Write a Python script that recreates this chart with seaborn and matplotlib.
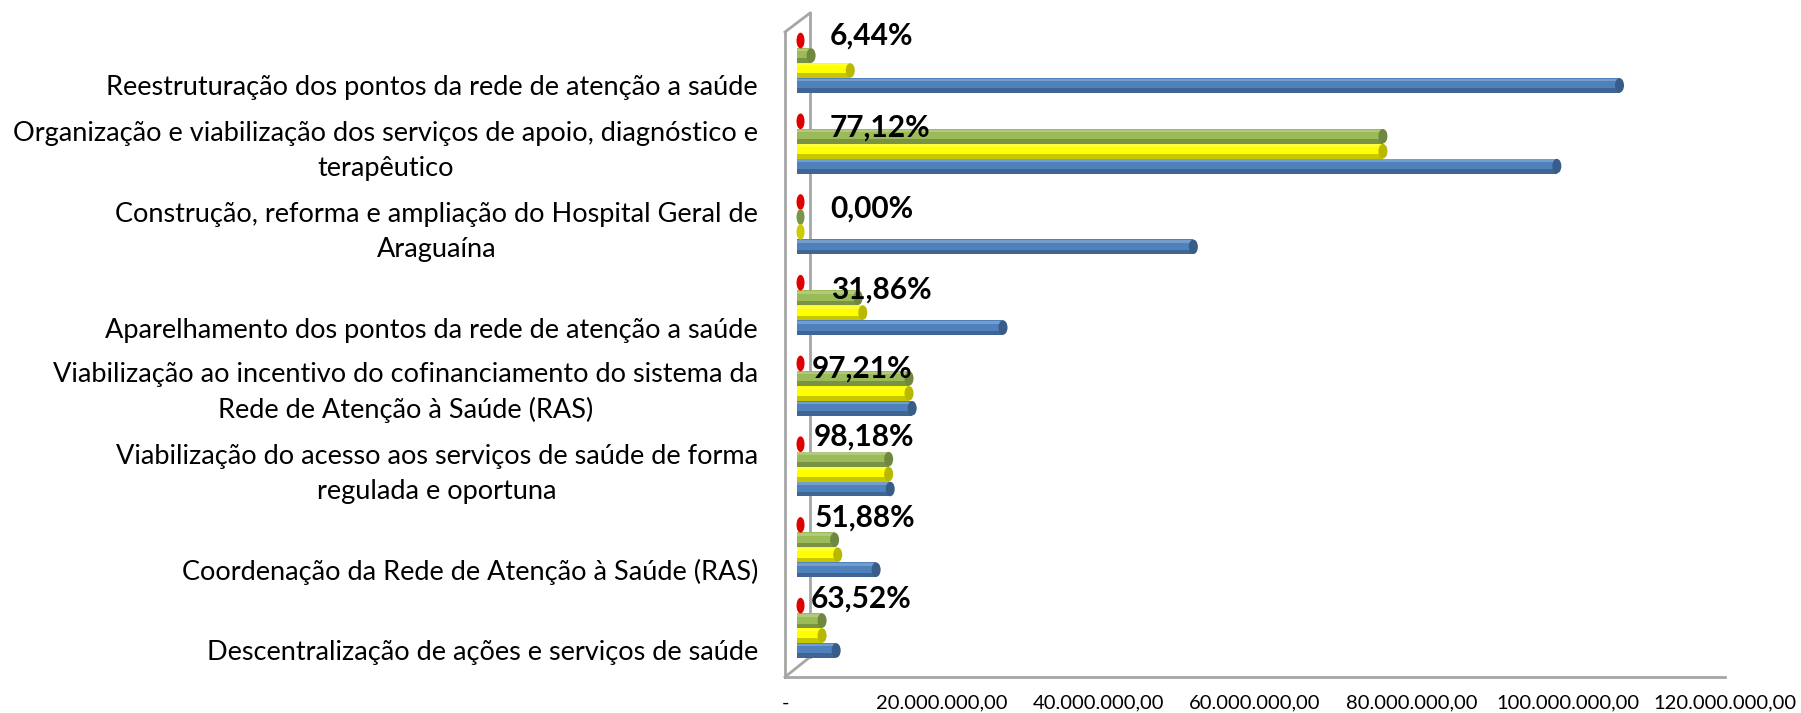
import numpy as np
import pandas as pd
import matplotlib
matplotlib.use("Agg")
import matplotlib.pyplot as plt
import matplotlib.colors as mcolors
import matplotlib.transforms as mtransforms
from matplotlib.patches import Ellipse, Rectangle
from matplotlib.lines import Line2D
from matplotlib.ticker import FuncFormatter, MultipleLocator
import seaborn as sns

# ---------------- data ----------------
categorias = [
    "Reestruturação dos pontos da rede de atenção a saúde",
    "Organização e viabilização dos serviços de apoio, diagnóstico e\nterapêutico",
    "Construção, reforma e ampliação do Hospital Geral de\nAraguaína",
    "Aparelhamento dos pontos da rede de atenção a saúde",
    "Viabilização ao incentivo do cofinanciamento do sistema da\nRede de Atenção à Saúde (RAS)",
    "Viabilização do acesso aos serviços de saúde de forma\nregulada e oportuna",
    "Coordenação da Rede de Atenção à Saúde (RAS)",
    "Descentralização de ações e serviços de saúde",
]
percentual = [0.0644, 0.7712, 0.0000, 0.3186, 0.9721, 0.9818, 0.5188, 0.6352]
verde = [1.8e6, 74.8e6, 0.0, 7.8e6, 14.3e6, 11.7e6, 4.8e6, 3.2e6]
amarelo = [6.8e6, 74.8e6, 0.0, 8.4e6, 14.3e6, 11.7e6, 5.2e6, 3.2e6]
azul = [105.0e6, 97.0e6, 50.6e6, 26.3e6, 14.7e6, 11.9e6, 10.1e6, 5.0e6]

series = ["Percentual", "Série verde", "Série amarela", "Série azul"]
cores = ["#E00000", "#9BBB59", "#FFFF00", "#4F81BD"]

# label placement (layout only)
pct_dx = [4.2e6, 4.2e6, 4.3e6, 4.4e6, 1.9e6, 2.1e6, 2.3e6, 1.7e6]
pct_dy = [-0.34, -0.20, -0.20, -0.19, -0.22, -0.37, -0.37, -0.37]

# ---------------- build frame ----------------
rows = []
for i, c in enumerate(categorias):
    for s, vals in zip(series, [percentual, verde, amarelo, azul]):
        rows.append({"categoria": c, "serie": s, "valor": vals[i]})
df = pd.DataFrame(rows)

W, H, DPI = 1801, 713, 100
fig = plt.figure(figsize=(W / DPI, H / DPI), dpi=DPI)
fig.patch.set_facecolor("white")

ax_left, ax_right = 797, 1737
ax_top, ax_bot = 22.6, 668.4
ax = fig.add_axes([ax_left / W, 1 - ax_bot / H, (ax_right - ax_left) / W, (ax_bot - ax_top) / H])

sns.barplot(data=df, y="categoria", x="valor", hue="serie", hue_order=series,
            palette=cores, orient="h", width=0.74, dodge=True, gap=0,
            saturation=1, linewidth=0, legend=False, ax=ax, zorder=3)

ax.set_xlim(0, 120e6)
ax.set_ylim(7.5, -0.5)
for sp in ax.spines.values():
    sp.set_visible(False)
ax.set_xlabel("")
ax.set_ylabel("")
ax.set_facecolor("none")

# cylinder look: shading + end caps
px_per_unit = (ax_right - ax_left) / 120e6
cap_w = 9 / px_per_unit
bars = list(ax.patches)
for p in bars:
    x0, y0, w, h = p.get_x(), p.get_y(), p.get_width(), p.get_height()
    fc = np.array(mcolors.to_rgb(p.get_facecolor()))
    dark = fc * 0.72
    if w > 0.5 * cap_w:
        ax.add_patch(Rectangle((x0, y0 + 0.70 * h), w, 0.30 * h, facecolor=fc * 0.78,
                               edgecolor="none", zorder=3.1))
        ax.add_patch(Rectangle((x0, y0 + 0.05 * h), w, 0.18 * h, facecolor="white",
                               alpha=0.22, edgecolor="none", zorder=3.1))
        ax.add_patch(Ellipse((x0 + w, y0 + h / 2), width=cap_w, height=h * 0.97,
                             facecolor=dark, edgecolor="none", zorder=3.2))
    else:
        is_red = fc[0] > 0.8 and fc[1] < 0.2
        col = fc if is_red else fc * 0.8
        e = Ellipse((x0 + 0.45e6, y0 + h / 2), width=8 / px_per_unit, height=h * 1.05,
                    facecolor=col, edgecolor="none", zorder=3.2, clip_on=False)
        ax.add_patch(e)

lab_font = "Lato"

# y tick labels (categories)
yt = np.arange(len(categorias)) + 1.5 * 0.185
ax.set_yticks(yt)
ax.set_yticklabels(categorias, fontsize=19.5, fontfamily=lab_font)
ax.tick_params(axis="y", length=0, pad=28)
off_y = mtransforms.ScaledTranslation(0, -10 / DPI, fig.dpi_scale_trans)
for lab in ax.get_yticklabels():
    lab.set_verticalalignment("baseline")
    lab.set_multialignment("center")
    lab.set_linespacing(1.5)
    lab.set_transform(lab.get_transform() + off_y)

# x tick labels
def br_fmt(v, pos):
    if abs(v) < 1:
        return "-"
    s = f"{v:,.2f}"
    return s.replace(",", "X").replace(".", ",").replace("X", ".")

ax.xaxis.set_major_locator(MultipleLocator(20e6))
ax.xaxis.set_major_formatter(FuncFormatter(br_fmt))
ax.tick_params(axis="x", length=0, pad=19, labelsize=14.5)
off_x = mtransforms.ScaledTranslation(-12 / DPI, 0, fig.dpi_scale_trans)
for lab in ax.get_xticklabels():
    lab.set_fontfamily(lab_font)
    lab.set_transform(lab.get_transform() + off_x)

# percent labels
for i, v in enumerate(percentual):
    txt = f"{v * 100:.2f}".replace(".", ",") + "%"
    ax.text(pct_dx[i], i + pct_dy[i], txt, ha="left", va="center",
            fontsize=21.5, fontweight="bold", fontfamily=lab_font, color="black", zorder=6)

# 3D walls (grey outline)
def fl(x, y):
    return (x / W, 1 - y / H)

wall = "#A6A6A6"
segs = [((785, 32), (785, 677)), ((810, 13), (810, 657)), ((785, 32), (810, 13)),
        ((785, 677), (810, 657)), ((785, 677), (1725, 677))]
for (a, b) in segs:
    (x1, y1), (x2, y2) = fl(*a), fl(*b)
    fig.add_artist(Line2D([x1, x2], [y1, y2], transform=fig.transFigure,
                          color=wall, linewidth=2, zorder=0))

fig.savefig("out.png", dpi=DPI, facecolor="white")
